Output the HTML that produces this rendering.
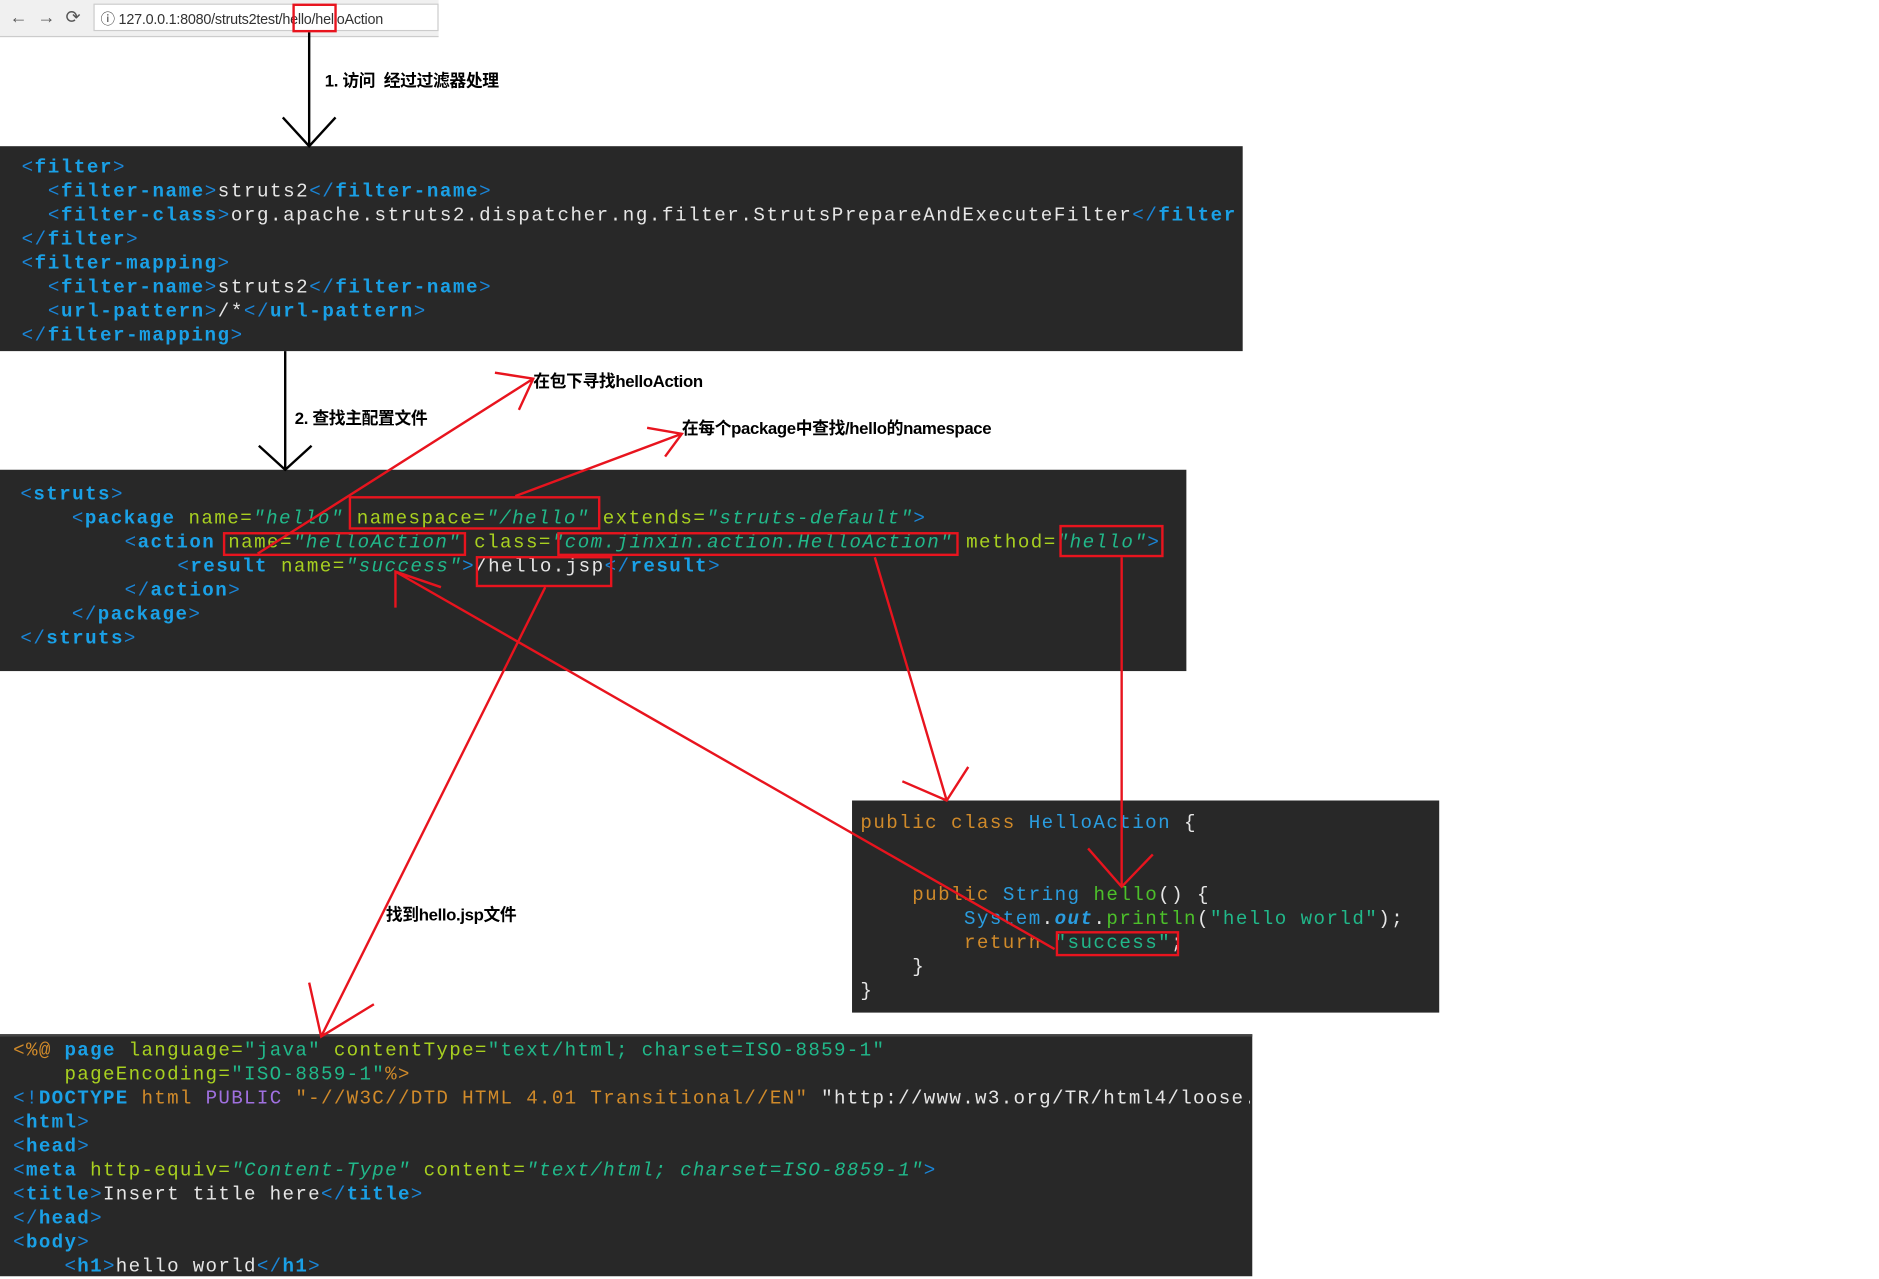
<!DOCTYPE html>
<html><head><meta charset="utf-8"><style>
html,body{margin:0;padding:0;background:#fff;width:1879px;height:1276px;overflow:hidden}
#w{position:absolute;left:0;top:0;width:1568px;height:1065px;transform:scale(1.19835);transform-origin:0 0}
.box{position:absolute;background:#282828}
.l{position:absolute;white-space:pre;font-family:"Liberation Mono",monospace;font-size:16px;line-height:20px;letter-spacing:1.4px;color:#e6e6e6}
.t{color:#1aa0e6;font-weight:bold}.b{color:#1a86d8}.a{color:#a8d020}.v{color:#21b88a;font-style:italic}.s{color:#21b88a}
.k{color:#d08a2a}.c{color:#2a9de0}.m{color:#4cc02a}.p{color:#a070e0}
.lab{position:absolute;font-family:"Liberation Sans","Noto Sans CJK SC",sans-serif;font-size:14px;font-weight:bold;color:#000;white-space:nowrap;letter-spacing:-0.3px}
.r{position:absolute;border:2px solid #e8141e;box-sizing:border-box}
.b2 .l{letter-spacing:1.2px}
</style></head><body><div id="w">
<div style="position:absolute;left:0;top:0;width:366px;height:30px;background:#f0f0f0;border-bottom:1px solid #ccc"></div>
<div style="position:absolute;left:78px;top:3px;width:288px;height:23px;background:#fff;border:1px solid #ccc;box-sizing:border-box"></div>
<div style="position:absolute;left:8px;top:5px;font:15px 'Liberation Sans',sans-serif;color:#555">←&nbsp;&nbsp;→&nbsp;&nbsp;⟳</div>
<div style="position:absolute;left:84px;top:7px;font:12px 'Liberation Sans',sans-serif;color:#333;white-space:nowrap;letter-spacing:-0.2px">ⓘ 127.0.0.1:8080/struts2test/hello/helloAction</div>
<div class="r" style="left:244px;top:3px;width:37px;height:24px"></div>
<div class="lab" style="left:271px;top:57px">1. 访问&nbsp; 经过过滤器处理</div>

<div class="box" style="left:0;top:122px;width:1037px;height:171px"></div>
<div class="l" style="left:18px;top:130px;letter-spacing:1.3px"><span class="b">&lt;</span><span class="t">filter</span><span class="b">&gt;</span></div>
<div class="l" style="left:40px;top:150px;letter-spacing:1.3px"><span class="b">&lt;</span><span class="t">filter-name</span><span class="b">&gt;</span>struts2<span class="b">&lt;/</span><span class="t">filter-name</span><span class="b">&gt;</span></div>
<div class="l" style="left:40px;top:170px;width:990px;overflow:hidden;letter-spacing:1.3px"><span class="b">&lt;</span><span class="t">filter-class</span><span class="b">&gt;</span>org.apache.struts2.dispatcher.ng.filter.StrutsPrepareAndExecuteFilter<span class="b">&lt;/</span><span class="t">filter-class</span></div>
<div class="l" style="left:18px;top:190px;letter-spacing:1.3px"><span class="b">&lt;/</span><span class="t">filter</span><span class="b">&gt;</span></div>
<div class="l" style="left:18px;top:210px;letter-spacing:1.3px"><span class="b">&lt;</span><span class="t">filter-mapping</span><span class="b">&gt;</span></div>
<div class="l" style="left:40px;top:230px;letter-spacing:1.3px"><span class="b">&lt;</span><span class="t">filter-name</span><span class="b">&gt;</span>struts2<span class="b">&lt;/</span><span class="t">filter-name</span><span class="b">&gt;</span></div>
<div class="l" style="left:40px;top:250px;letter-spacing:1.3px"><span class="b">&lt;</span><span class="t">url-pattern</span><span class="b">&gt;</span>/*<span class="b">&lt;/</span><span class="t">url-pattern</span><span class="b">&gt;</span></div>
<div class="l" style="left:18px;top:270px;letter-spacing:1.3px"><span class="b">&lt;/</span><span class="t">filter-mapping</span><span class="b">&gt;</span></div>

<div class="lab" style="left:246px;top:339px">2. 查找主配置文件</div>
<div class="lab" style="left:445px;top:308px">在包下寻找helloAction</div>
<div class="lab" style="left:569px;top:347px">在每个package中查找/hello的namespace</div>

<div class="b2">
<div class="box" style="left:0;top:392px;width:990px;height:168px"></div>
<div class="l" style="left:17px;top:403px"><span class="b">&lt;</span><span class="t">struts</span><span class="b">&gt;</span></div>
<div class="l" style="left:60px;top:423px"><span class="b">&lt;</span><span class="t">package</span> <span class="a">name=</span><span class="v">"hello"</span> <span class="a">namespace=</span><span class="v">"/hello"</span> <span class="a">extends=</span><span class="v">"struts-default"</span><span class="b">&gt;</span></div>
<div class="l" style="left:104px;top:443px"><span class="b">&lt;</span><span class="t">action</span> <span class="a">name=</span><span class="v">"helloAction"</span> <span class="a">class=</span><span class="v">"com.jinxin.action.HelloAction"</span> <span class="a">method=</span><span class="v">"hello"</span><span class="b">&gt;</span></div>
<div class="l" style="left:148px;top:463px"><span class="b">&lt;</span><span class="t">result</span> <span class="a">name=</span><span class="v">"success"</span><span class="b">&gt;</span>/hello.jsp<span class="b">&lt;/</span><span class="t">result</span><span class="b">&gt;</span></div>
<div class="l" style="left:104px;top:483px"><span class="b">&lt;/</span><span class="t">action</span><span class="b">&gt;</span></div>
<div class="l" style="left:60px;top:503px"><span class="b">&lt;/</span><span class="t">package</span><span class="b">&gt;</span></div>
<div class="l" style="left:17px;top:523px"><span class="b">&lt;/</span><span class="t">struts</span><span class="b">&gt;</span></div>
</div>
<div class="r" style="left:291px;top:414px;width:210px;height:28px"></div>
<div class="r" style="left:186px;top:444px;width:203px;height:20px"></div>
<div class="r" style="left:465px;top:444px;width:335px;height:20px"></div>
<div class="r" style="left:884px;top:438px;width:87px;height:27px"></div>
<div class="r" style="left:397px;top:464px;width:114px;height:26px"></div>

<div class="box" style="left:711px;top:668px;width:490px;height:177px"></div>
<div class="l" style="left:718px;top:677px;letter-spacing:1.2px"><span class="k">public class </span><span class="c">HelloAction</span> {</div>
<div class="l" style="left:718px;top:737px;letter-spacing:1.2px">    <span class="k">public </span><span class="c">String </span><span class="m">hello</span>() {</div>
<div class="l" style="left:718px;top:757px;letter-spacing:1.2px">        <span class="c">System</span>.<span class="c" style="font-style:italic;font-weight:bold">out</span>.<span class="m">println</span>(<span class="s">"hello world"</span>);</div>
<div class="l" style="left:718px;top:777px;letter-spacing:1.2px">        <span class="k">return </span><span class="s">"success"</span>;</div>
<div class="l" style="left:718px;top:797px;letter-spacing:1.2px">    }</div>
<div class="l" style="left:718px;top:817px;letter-spacing:1.2px">}</div>
<div class="r" style="left:881px;top:777px;width:103px;height:21px"></div>
<div class="lab" style="left:322px;top:753px">找到hello.jsp文件</div>

<div class="box" style="left:0;top:863px;width:1045px;height:202px;border-top:2px solid #444;box-sizing:border-box"></div>
<div class="l" style="left:11px;top:867px;letter-spacing:1.1px;width:1030px;overflow:hidden"><span class="k">&lt;%@</span> <span class="t">page</span> <span class="a">language=</span><span class="s">"java"</span> <span class="a">contentType=</span><span class="s">"text/html; charset=ISO-8859-1"</span></div>
<div class="l" style="left:11px;top:887px;letter-spacing:1.1px">    <span class="a">pageEncoding=</span><span class="s">"ISO-8859-1"</span><span class="k">%&gt;</span></div>
<div class="l" style="left:11px;top:907px;letter-spacing:1.1px;width:1032px;overflow:hidden"><span class="b">&lt;!</span><span class="t">DOCTYPE</span> <span class="k">html</span> <span class="p">PUBLIC</span> <span class="k">"-//W3C//DTD HTML 4.01 Transitional//EN"</span> "http://www.w3.org/TR/html4/loose.dtd"</div>
<div class="l" style="left:11px;top:927px;letter-spacing:1.1px"><span class="b">&lt;</span><span class="t">html</span><span class="b">&gt;</span></div>
<div class="l" style="left:11px;top:947px;letter-spacing:1.1px"><span class="b">&lt;</span><span class="t">head</span><span class="b">&gt;</span></div>
<div class="l" style="left:11px;top:967px;letter-spacing:1.1px"><span class="b">&lt;</span><span class="t">meta</span> <span class="a">http-equiv=</span><span class="v">"Content-Type"</span> <span class="a">content=</span><span class="v">"text/html; charset=ISO-8859-1"</span><span class="b">&gt;</span></div>
<div class="l" style="left:11px;top:987px;letter-spacing:1.1px"><span class="b">&lt;</span><span class="t">title</span><span class="b">&gt;</span>Insert title here<span class="b">&lt;/</span><span class="t">title</span><span class="b">&gt;</span></div>
<div class="l" style="left:11px;top:1007px;letter-spacing:1.1px"><span class="b">&lt;/</span><span class="t">head</span><span class="b">&gt;</span></div>
<div class="l" style="left:11px;top:1027px;letter-spacing:1.1px"><span class="b">&lt;</span><span class="t">body</span><span class="b">&gt;</span></div>
<div class="l" style="left:11px;top:1047px;letter-spacing:1.1px">    <span class="b">&lt;</span><span class="t">h1</span><span class="b">&gt;</span>hello world<span class="b">&lt;/</span><span class="t">h1</span><span class="b">&gt;</span></div>

<svg style="position:absolute;left:0;top:0" width="1568" height="1065">
<g stroke="#000" stroke-width="2" fill="none">
<path d="M258 27V122M236 98L258 122L280 98"/>
<path d="M238 293V392M216 372L238 392L260 372"/>
</g>
<g stroke="#e8141e" stroke-width="2" fill="none">
<path d="M215 462L445 316M413 311L445 316L433 342"/>
<path d="M430 414L569 362M540 357L569 362L555 381"/>
<path d="M455 490L268 865M258 820L268 865L312 838"/>
<path d="M880 792L330 477M330 507L330 477L368 490"/>
<path d="M730 465L790 668M753 652L790 668L808 640"/>
<path d="M936 465V740M908 708L936 740L962 713"/>
</g>
</svg>
</div></body></html>
